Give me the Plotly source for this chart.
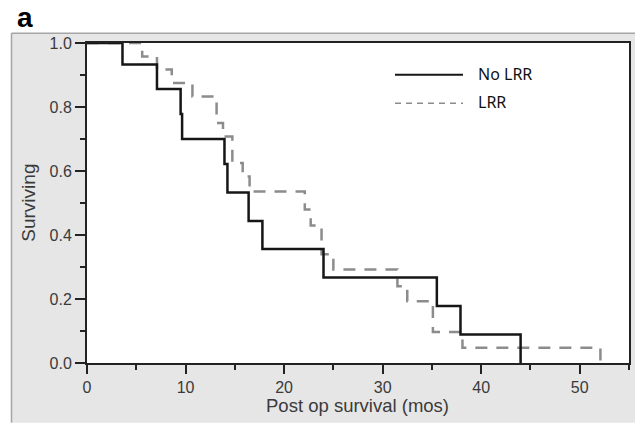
import plotly.graph_objects as go

# Kaplan-Meier step data
times_no_lrr = [0, 3.6, 7.1, 9.5, 9.65, 13.95, 14.25, 16.4, 17.8, 24.0, 35.5, 37.9, 44.0]
surv_no_lrr = [1.0, 0.933, 0.856, 0.778, 0.700, 0.622, 0.533, 0.444, 0.356, 0.267, 0.178, 0.089, 0.0]

times_lrr = [0, 5.6, 7.1, 8.6, 10.7, 13.15, 13.8, 14.75, 15.8, 16.5, 22.1, 22.7, 23.8, 25.0, 31.5, 32.5, 35.1, 38.1, 52.1]
surv_lrr = [1.0, 0.958, 0.917, 0.875, 0.833, 0.750, 0.708, 0.625, 0.583, 0.536, 0.48, 0.43, 0.34, 0.292, 0.24, 0.193, 0.097, 0.048, 0.0]

x_ticks = [0, 10, 20, 30, 40, 50]
y_ticks = [0.0, 0.2, 0.4, 0.6, 0.8, 1.0]
y_tick_labels = ["0.0", "0.2", "0.4", "0.6", "0.8", "1.0"]
series_names = ["No LRR", "LRR"]

# page has an 8px body margin: figure starts at (8, 8) in the window
OFF = 8
WIN_W, WIN_H = 643, 425
W, H = WIN_W - OFF, WIN_H - OFF
# plot-area edges in window pixels
PL, PR, PT, PB = 87, 629, 43.3, 363.3
L, R, T, B = PL - OFF, WIN_W - PR, PT - OFF, WIN_H - PB
pw, ph = PR - PL, PB - PT


def px(x):
    """window pixel x -> paper coordinate"""
    return (x - PL) / pw


def py(y):
    """window pixel y -> paper coordinate"""
    return (PB - y) / ph


BLACK = "#161616"
GREY = "#8c8c8c"
PANEL = "#e6e6e6"

fig = go.Figure()
fig.add_trace(go.Scatter(x=times_lrr, y=surv_lrr, mode="lines", name=series_names[1],
                         line=dict(color=GREY, width=2.5, dash="12px,9px", shape="hv"),
                         showlegend=False))
fig.add_trace(go.Scatter(x=times_no_lrr, y=surv_no_lrr, mode="lines", name=series_names[0],
                         line=dict(color=BLACK, width=2.5, shape="hv"),
                         showlegend=False))

tickfont = dict(family="Liberation Sans, Arial, sans-serif", size=16, color="#3a3a3a")

fig.update_xaxes(range=[0, 55], tickvals=x_ticks, ticks="outside", ticklen=9, tickwidth=1.5,
                 tickcolor="#222", showline=True, linecolor="#222", linewidth=2, mirror=True,
                 showgrid=False, zeroline=False, tickfont=tickfont,
                 minor=dict(dtick=5, tick0=0, ticks="outside", ticklen=5, tickwidth=1.5, tickcolor="#222"))
fig.update_yaxes(range=[0, 1], tickvals=y_ticks, ticktext=y_tick_labels, ticks="outside", ticklen=10,
                 tickwidth=1.5, tickcolor="#222", showline=True, linecolor="#222", linewidth=2,
                 mirror=True, showgrid=False, zeroline=False, tickfont=tickfont,
                 minor=dict(dtick=0.1, tick0=0, ticks="outside", ticklen=5, tickwidth=1.5, tickcolor="#222"))

shapes = [
    # white surroundings of the grey panel
    dict(type="rect", xref="paper", yref="paper", x0=px(-20), x1=px(WIN_W + 20), y0=py(33.5), y1=py(-20),
         fillcolor="white", line_width=0, layer="above"),
    dict(type="rect", xref="paper", yref="paper", x0=px(-20), x1=px(11.5), y0=py(WIN_H + 20), y1=py(-20),
         fillcolor="white", line_width=0, layer="above"),
    dict(type="rect", xref="paper", yref="paper", x0=px(-20), x1=px(WIN_W + 20), y0=py(WIN_H + 20), y1=py(423),
         fillcolor="white", line_width=0, layer="above"),
    # panel border
    dict(type="line", xref="paper", yref="paper", x0=px(11.5), x1=px(WIN_W + 5), y0=py(33.5), y1=py(33.5),
         line=dict(color="#a5a5a5", width=1.5)),
    dict(type="line", xref="paper", yref="paper", x0=px(11.5), x1=px(11.5), y0=py(33.5), y1=py(423),
         line=dict(color="#a5a5a5", width=1.5)),
    # legend samples
    dict(type="line", xref="paper", yref="paper", x0=px(395), x1=px(463), y0=py(75), y1=py(75),
         line=dict(color=BLACK, width=2)),
    dict(type="line", xref="paper", yref="paper", x0=px(395), x1=px(463), y0=py(103.5), y1=py(103.5),
         line=dict(color=GREY, width=1.5, dash="6px,5px")),
]

legend_font = dict(family="Noto Sans, sans-serif", size=16, color="#111")
annotations = [
    dict(text=series_names[0], x=px(476), y=py(74), xref="paper", yref="paper", showarrow=False,
         xanchor="left", yanchor="middle", font=legend_font),
    dict(text=series_names[1], x=px(476), y=py(102.5), xref="paper", yref="paper", showarrow=False,
         xanchor="left", yanchor="middle", font=legend_font),
    dict(text="<b>a</b>", x=px(25), y=py(18), xref="paper", yref="paper", showarrow=False,
         xanchor="center", yanchor="middle",
         font=dict(family="Liberation Sans, Arial, sans-serif", size=28, color="#000")),
    dict(text="Post op survival (mos)", x=px(357), y=py(406), xref="paper", yref="paper",
         showarrow=False, xanchor="center", yanchor="middle",
         font=dict(family="Liberation Sans, Arial, sans-serif", size=18.5, color="#3a3a3a")),
    dict(text="Surviving", x=px(29), y=py(203), xref="paper", yref="paper", showarrow=False,
         textangle=-90, xanchor="center", yanchor="middle",
         font=dict(family="Liberation Sans, Arial, sans-serif", size=19, color="#3a3a3a")),
]

fig.update_layout(width=W, height=H, margin=dict(l=L, r=R, t=T, b=B, pad=0),
                  paper_bgcolor=PANEL, plot_bgcolor="white", shapes=shapes, annotations=annotations,
                  showlegend=False)

fig.write_html("out.html")
